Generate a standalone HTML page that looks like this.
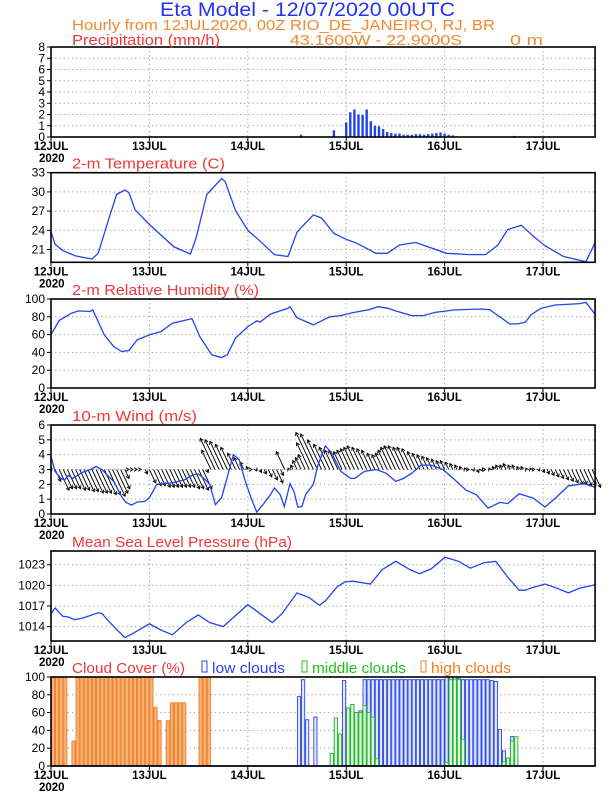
<!DOCTYPE html>
<html><head><meta charset="utf-8"><style>
body{margin:0;background:#fff}
svg{display:block;font-family:"Liberation Sans",sans-serif}
</style></head><body>
<svg id="c" width="612" height="792" viewBox="0 0 612 792">
<text x="160" y="16" font-size="19" fill="#2233ee" textLength="295" lengthAdjust="spacingAndGlyphs">Eta Model - 12/07/2020 00UTC</text>
<text x="72" y="30" font-size="15" fill="#f08a30" textLength="423" lengthAdjust="spacingAndGlyphs">Hourly from 12JUL2020, 00Z  RIO_DE_JANEIRO, RJ, BR</text>
<text x="290" y="45" font-size="15" fill="#f08a30" textLength="172" lengthAdjust="spacingAndGlyphs">43.1600W - 22.9000S</text>
<text x="510" y="45" font-size="15" fill="#f08a30" textLength="33" lengthAdjust="spacingAndGlyphs">0 m</text>
<g id="g"></g>
</svg>
<script>
const NS="http://www.w3.org/2000/svg";
const dayLabels=["12JUL","13JUL","14JUL","15JUL","16JUL","17JUL"];
const precipH=[61,69,72,73,74,75,76,77,78,79,80,81,82,83,84,85,86,87,88,89,90,91,92,93,94,95,96,97,98,99,111,112,113];
const precipV=[0.2,0.6,1.3,2.2,2.45,2.0,1.95,2.45,1.4,1.0,0.95,0.7,0.45,0.35,0.3,0.3,0.2,0.2,0.2,0.25,0.25,0.2,0.25,0.3,0.35,0.4,0.3,0.2,0.15,0.05,0.05,0.05,0.1];
const tempH=[0,1,3,6,10,11.5,14,16,18,19,20.5,24,30,34,35.4,38,41.6,42.5,45,48,51,54.5,57.8,60,62,64,66,69,72,74.5,79.3,82,85,89,92,96.5,102,106,109,111.4,114.7,117.6,120.5,125,130.5,132.7];
const tempV=[23.8,21.8,20.8,20.0,19.5,20.4,25.6,29.6,30.3,29.9,27.2,24.9,21.4,20.3,22.8,29.6,32.1,31.6,27.1,24.0,22.3,20.2,19.9,23.7,25.1,26.4,25.9,23.5,22.6,22.0,20.4,20.4,21.7,22.1,21.4,20.4,20.2,20.2,21.7,24.1,24.8,23.1,21.6,19.9,19.1,22.1];
const rhH=[0,2,5,6.7,9.5,10.2,13,15.3,17.2,19,21,24,26.8,29.6,33.5,34.4,36.3,39.2,41.6,43,45,48,50.2,51,53.5,57.8,58.3,60,64,68,70.7,73.6,77.4,79.8,82.2,84,88,90.8,93.7,98.5,105,107,111.9,113.8,115.7,117,119.5,123,129,130.5,132.7];
const rhV=[60,76,84,86.6,86,87.7,59.7,46.6,41,42,54,59.7,63.4,72.8,77,78,57.8,37.3,34.3,37.3,56,69,75.4,74,83,89.6,91.4,79,70.9,80,81.3,84.7,87.7,91.4,89.6,86.6,81.3,81.3,85,87.7,88.8,88,72,72,73.9,82,89.5,93.3,94.8,96.2,82.8];
const windSpdH=[0,1,2.4,3.3,4.3,5.3,7.6,9.6,11,12.4,15.3,17.2,18.2,19.6,21,22.9,24,25.8,29.6,32.5,34.4,35.9,37.3,38.7,40.1,41.6,43,44.5,45.9,47.3,48.8,50.2,51.6,53.5,54.5,55.9,56.9,58.3,59.3,60.2,61.2,62.1,64,65,66.9,68.4,70.7,73.1,74.1,76.5,79.3,81.7,84.1,86,88,90.3,92.7,95.6,98.5,101.3,103.7,106.6,109.5,111.4,114.2,117.6,120.5,123.3,126.2,130,132.7];
const windSpdV=[3.87,2.87,2.4,2.3,2.6,2.4,2.8,3.0,3.2,3.0,2.2,1.2,0.8,0.6,0.8,0.85,1.1,2.0,2.1,2.3,2.6,2.7,2.4,2.0,0.63,1.1,2.5,4.0,3.65,2.3,1.07,0.13,0.6,1.3,1.75,1.3,0.5,2.04,1.5,0.47,0.5,1.3,2.0,3.2,4.6,4.14,2.87,2.4,2.4,2.87,3.0,2.75,2.2,2.4,2.75,3.3,3.3,3.0,2.3,1.6,1.3,0.4,0.78,0.7,1.37,1.07,0.47,1.14,1.9,2.04,1.8];
// hourly wind vector tips (m/s on the axis, baseline 3)
const vecTip=[2.9,2.2,1.6,1.7,1.7,1.7,1.6,1.6,1.5,1.5,
1.4,1.4,1.4,1.3,1.3,1.2,1.4,1.7,2.4,3.0,
3.0,3.0,3.0,2.7,2.1,1.9,1.9,1.8,1.8,1.8,
1.8,1.8,1.8,1.8,1.7,1.7,1.6,1.7,2.8,4.3,
5.1,5.0,4.9,4.7,4.5,4.1,3.8,3.5,3.2,3.0,
2.9,2.8,2.7,2.5,2.3,2.1,2.6,4.2,3.1,3.3,
3.6,3.8,4.0,4.8,5.5,5.4,5.0,4.7,4.5,4.3,
4.3,4.2,4.3,4.4,4.5,4.6,4.5,4.4,4.3,4.1,
4.0,4.1,4.3,4.5,4.6,4.6,4.5,4.5,4.4,4.2,
4.1,4.0,3.9,3.8,3.7,3.6,3.6,3.5,3.4,3.3,
3.2,3.1,3.0,2.9,2.8,2.9,3.0,3.1,3.2,3.3,
3.3,3.4,3.3,3.3,3.2,3.2,3.1,3.1,3.0,2.9,
2.8,2.7,2.6,2.5,2.4,2.3,2.2,2.1,2.0,2.0,1.9,1.9,1.8];
const slpH=[0,1,2.9,4.3,5.7,7.6,11.5,12.4,15.3,18,20,24,26.8,29.6,33,35.9,38.7,42,45,48,50.7,54,56.4,60,63,65.5,67,69.8,71.7,73.6,77.9,80.8,84.1,87.5,89.9,92.7,96.1,99.4,102.3,105.6,108.5,111.4,114.2,115.7,117,120.5,123.8,126.2,129,132.7];
const slpV=[1015.9,1016.7,1015.5,1015.4,1015.0,1015.2,1016,1015.9,1014,1012.4,1013,1014.4,1013.5,1012.8,1014.6,1015.7,1014.6,1014,1015.6,1017.2,1016,1014.6,1015.9,1018.9,1018.2,1017.1,1017.8,1019.8,1020.5,1020.6,1020.2,1022.3,1023.5,1022.3,1021.7,1022.4,1024.1,1023.5,1022.5,1023.3,1023.5,1021.2,1019.3,1019.3,1019.6,1020.2,1019.5,1018.9,1019.6,1020.1];
const highH=[0,1,2,3,5,6,7,8,9,10,11,12,13,14,15,16,17,18,19,20,21,22,23,24,25,26,28,29,30,31,32,36,37,38];
const highV=[100,100,100,100,28,100,100,100,100,100,100,100,100,100,100,100,100,100,100,100,100,100,100,100,66,51,51,71,71,71,71,100,100,100];
const lowH=[60,61,62,64,68,69,70,71,72,73,74,75,76,77,78,79,80,81,82,83,84,85,86,87,88,89,90,91,92,93,94,95,96,97,98,99,100,101,102,103,104,105,106,107,108,109,110,111,112,113];
const lowV=[78,97,52,55,14,54,36,96,65,69,60,62,97,97,97,97,97,97,97,97,97,97,97,97,97,97,97,97,97,97,97,97,100,100,100,98,97,97,97,97,97,97,97,96,95,41,17,9,33,8];
const midH=[68,69,70,72,73,74,75,76,77,78,79,96,97,98,99,100,110,111,112,113];
const midV=[14,54,36,65,69,60,60,68,60,55,8,4,97,97,97,30,5,9,28,33];

const g=document.getElementById('g');
function el(t,a,p){const e=document.createElementNS(NS,t);for(const k in a)e.setAttribute(k,a[k]);(p||g).appendChild(e);return e;}
const X0=51,PXH=4.1,HMAX=132.7;
const xs=h=>X0+h*PXH;const XR=xs(HMAX);
function mkY(top,bot,mn,mx){return v=>bot-(v-mn)/(mx-mn)*(bot-top);}
function panel(name,title,tlen,top,bot,mn,mx,ticks){
  const y=mkY(top,bot,mn,mx);
  const pg=el('g',{});
  
  
  ticks.forEach(t=>{
    const gl=el('line',{x1:X0,x2:XR,y1:y(t),y2:y(t),stroke:'#999','stroke-dasharray':'1.2,3','stroke-width':1},pg);
    
    
    const tx=el('text',{x:45,y:y(t)+4,'font-size':12,'text-anchor':'end',fill:'#000'},pg);tx.textContent=t;
    
    
    el('line',{x1:47,x2:X0,y1:y(t),y2:y(t),stroke:'#000'},pg);
  });
  dayLabels.forEach((d,i)=>{
    const xx=xs(i*24);
    if(i>0){const vl=el('line',{x1:xx,x2:xx,y1:top,y2:bot,stroke:'#999','stroke-dasharray':'1.2,3'},pg);
    
    }
    el('line',{x1:xx,x2:xx,y1:bot,y2:bot+4,stroke:'#000'},pg);
    const tx=el('text',{x:xx,y:bot+13,'font-size':11.5,'text-anchor':'middle','font-weight':'bold',fill:'#000'},pg);tx.textContent=d;
    
    
  });
  const yr=el('text',{x:39,y:bot+25,'font-size':11.5,'font-weight':'bold',fill:'#000'},pg);yr.textContent='2020';
  
  
  if(title){const tt=el('text',{x:72,y:top-4,'font-size':15,fill:'#f03838',textLength:tlen,lengthAdjust:'spacingAndGlyphs'},pg);tt.textContent=title;
  
  }
  return {y,pg,top,bot};
}
function frame(p,name){const r=el('rect',{x:X0,y:p.top,width:XR-X0,height:p.bot-p.top,fill:'none',stroke:'#000','stroke-width':1.6});
  
  }
function line(p,H,V,name){const pts=H.map((h,i)=>xs(h).toFixed(1)+','+p.y(V[i]).toFixed(1)).join(' ');
  const l=el('polyline',{points:pts,fill:'none',stroke:'#2244ee','stroke-width':1.3},p.pg);
  
  }

// precipitation
const pp=panel('precipitation',null,0,47,137,0,8,[0,1,2,3,4,5,6,7,8]);
precipH.forEach((h,i)=>{const b=el('rect',{x:xs(h)-1.2,y:pp.y(precipV[i]),width:2.4,height:pp.bot-pp.y(precipV[i]),fill:'#2244ee'},pp.pg);
  
  });
frame(pp,'precipitation');
const ptl=el('text',{x:72,y:45,'font-size':15,fill:'#f03838',textLength:148,lengthAdjust:'spacingAndGlyphs'});ptl.textContent='Precipitation (mm/h)';



// temperature
const tp=panel('temperature','2-m Temperature (C)',153,172.7,262.3,19,33,[21,24,27,30,33]);
line(tp,tempH,tempV,'temperature-line');frame(tp,'temperature');

// RH
const rp=panel('humidity','2-m Relative Humidity (%)',187,299,388,0,100,[0,20,40,60,80,100]);
line(rp,rhH,rhV,'humidity-line');frame(rp,'humidity');

// wind
const wp=panel('wind','10-m Wind (m/s)',125,425,514,0,6,[0,1,2,3,4,5,6]);
vecTip.forEach((tip,h)=>{
  const bx=xs(h),by=wp.y(3),tx=bx-(tip-3)*7,ty=wp.y(tip);
  const a=el('line',{x1:bx,y1:by,x2:tx,y2:ty,stroke:'#000','stroke-width':0.9},wp.pg);
  
  
  const ang=Math.atan2(ty-by,tx-bx),L=3.5;
  const hd=el('path',{d:`M${tx+L*Math.cos(ang+2.6)},${ty+L*Math.sin(ang+2.6)}L${tx},${ty}L${tx+L*Math.cos(ang-2.6)},${ty+L*Math.sin(ang-2.6)}`,stroke:'#000','stroke-width':0.9,fill:'none'},wp.pg);
  
  
});
line(wp,windSpdH,windSpdV,'wind-speed-line');frame(wp,'wind');

// MSLP
const mp=panel('pressure','Mean Sea Level Pressure (hPa)',220,551,641,1011.9,1025,[1014,1017,1020,1023]);
line(mp,slpH,slpV,'pressure-line');frame(mp,'pressure');

// clouds
const cp=panel('cloud','Cloud Cover (%)',113,677,766,0,100,[0,20,40,60,80,100]);
function bars(H,V,fill,stroke,name){H.forEach((h,i)=>{const b=el('rect',{x:xs(h)+0.4,y:cp.y(V[i]),width:3.2,height:cp.bot-cp.y(V[i]),fill:fill,stroke:stroke,'stroke-width':0.9},cp.pg);
  
  });}
bars(highH,highV,'#f6b37e','#ef7f20','high-cloud-bar');
bars(lowH,lowV,'#e3e8fb','#2a44ee','low-cloud-bar');
bars(midH,midV,'#e8f7e8','#1fbf1f','middle-cloud-bar');
const bl=el('line',{x1:X0,x2:XR,y1:cp.bot,y2:cp.bot,stroke:'#2a44ee','stroke-width':1.5},cp.pg);


frame(cp,'cloud');
[[202,'#2a44ee','low clouds',73,'legend-low-clouds'],[302,'#1fbf1f','middle clouds',94,'legend-middle-clouds'],[421,'#ef7f20','high clouds',80,'legend-high-clouds']].forEach(L=>{
  const lg=el('g',{});
  
  
  el('rect',{x:L[0],y:661,width:5,height:11,fill:'none',stroke:L[1],'stroke-width':1},lg);
  const t=el('text',{x:L[0]+10,y:673,'font-size':15,fill:L[1],textLength:L[3],lengthAdjust:'spacingAndGlyphs'},lg);t.textContent=L[2];
});
</script>
</body></html>
